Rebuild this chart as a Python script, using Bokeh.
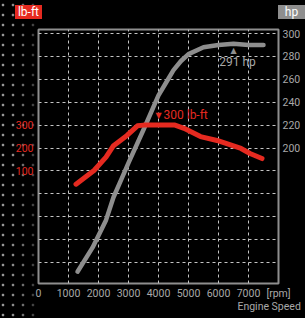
from bokeh.plotting import figure
from bokeh.models import Range1d, LinearAxis, FixedTicker, Div
from bokeh.layouts import column
from bokeh.core.properties import value
from bokeh.embed import file_html
from bokeh.resources import INLINE

# ---- data ----
rpm_tq = [1250, 1850, 2250, 2500, 2950, 3300, 3500, 4000, 4550, 4850, 5400, 5950, 6750, 7050, 7450]
torque = [42, 102, 160, 210, 255, 297, 300, 300, 300, 286, 250, 233, 198, 176, 154]

rpm_hp = [1300, 1800, 2250, 2500, 2750, 3000, 3500, 4000, 4250, 4500, 4750, 5000, 5500, 6000, 6500, 7000, 7500]
hp = [92, 113, 137, 157, 172, 187, 216, 246, 257, 268, 276, 282, 288, 290, 291, 290, 290]

x_ticks = [0, 1000, 2000, 3000, 4000, 5000, 6000, 7000, 8000]
hp_ticks = [200, 220, 240, 260, 280, 300]
tq_ticks = [100, 200, 300]
hp_grid = [100, 120, 140, 160, 180, 200, 220, 240, 260, 280, 300]
x_unit = "[rpm]"
x_title = "Engine Speed"
tq_unit = "lb-ft"
hp_unit = "hp"

RED = "#e52a20"
GRAY = "#8e8e8e"
LBL_GRAY = "#a8a8a8"
FONT = "Roboto"

hp_lo, hp_hi = 81.7, 303.5
# torque axis: 100 lb-ft per 20 hp, 300 lb-ft aligned with 220 hp
tq_lo = 300 + (hp_lo - 220) * 5
tq_hi = 300 + (hp_hi - 220) * 5

HEADER_H = 27

fig = figure(width=305, height=318 - HEADER_H, output_backend="svg", toolbar_location=None,
             x_range=Range1d(0, 8000), y_range=Range1d(hp_lo, hp_hi),
             y_axis_location="right")
fig.extra_y_ranges = {"tq": Range1d(tq_lo, tq_hi)}
fig.min_border = 0
fig.min_border_left = 38
fig.min_border_right = 27
fig.min_border_top = 2
fig.min_border_bottom = 35

fig.background_fill_color = "black"
fig.border_fill_color = None
fig.outline_line_color = GRAY
fig.outline_line_width = 2

# grids
fig.xgrid.ticker = FixedTicker(ticks=x_ticks[1:-1])
fig.ygrid.ticker = FixedTicker(ticks=hp_grid)
for g in (fig.xgrid[0], fig.ygrid[0]):
    g.grid_line_color = "#c4c4c4"
    g.grid_line_dash = "3 3"
    g.grid_line_width = 1


def style_axis(ax, color, standoff):
    ax.axis_line_color = None
    ax.major_tick_line_color = None
    ax.minor_tick_line_color = None
    ax.major_tick_out = 0
    ax.major_tick_in = 0
    ax.minor_tick_out = 0
    ax.minor_tick_in = 0
    ax.major_label_standoff = standoff
    ax.major_label_text_color = color
    ax.major_label_text_font = FONT
    ax.major_label_text_font_size = "10.5px"


# x axis
xa = fig.xaxis[0]
xa.ticker = FixedTicker(ticks=x_ticks)
xa.major_label_overrides = {x_ticks[-1]: x_unit}
style_axis(xa, LBL_GRAY, 3)

# second row under the x axis: the axis title, set under the last tick
xt = LinearAxis(ticker=FixedTicker(ticks=[x_ticks[-1]]),
                major_label_overrides={x_ticks[-1]: x_title})
style_axis(xt, LBL_GRAY, -3)
fig.add_layout(xt, "below")

# right hp axis
ya = fig.yaxis[0]
ya.ticker = FixedTicker(ticks=hp_ticks)
style_axis(ya, LBL_GRAY, 4)

# left torque axis
la = LinearAxis(y_range_name="tq", ticker=FixedTicker(ticks=tq_ticks))
style_axis(la, RED, 5)
fig.add_layout(la, "left")

# curves
fig.line(rpm_hp, hp, line_color=GRAY, line_width=4.5, line_cap="round", line_join="round")
fig.line(rpm_tq, torque, line_color=RED, line_width=5, line_cap="round", line_join="round",
         y_range_name="tq")

# peak annotations
tq_peak = max(torque)
tq_peak_rpm = 4000
hp_peak = max(hp)
hp_peak_rpm = rpm_hp[hp.index(hp_peak)]

fig.text(x=[tq_peak_rpm], y=[tq_peak], text=["\u25BC"], y_range_name="tq",
         text_color=RED, text_font=value("DejaVu Sans"), text_font_size="8px",
         text_align="center", text_baseline="middle", y_offset=-10)
fig.text(x=[tq_peak_rpm], y=[tq_peak], text=[f"{tq_peak} {tq_unit}"], y_range_name="tq",
         text_color=RED, text_font=value(FONT), text_font_size="12px",
         text_align="left", text_baseline="middle", x_offset=5, y_offset=-10)

fig.text(x=[hp_peak_rpm], y=[hp_peak], text=["\u25B2"],
         text_color=GRAY, text_font=value("DejaVu Sans"), text_font_size="8px",
         text_align="center", text_baseline="middle", y_offset=7)
fig.text(x=[hp_peak_rpm], y=[hp_peak], text=[f"{hp_peak} {hp_unit}"],
         text_color=LBL_GRAY, text_font=value(FONT), text_font_size="12px",
         text_align="center", text_baseline="middle", x_offset=4, y_offset=18)

# header row with the two unit badges
badge = ("position:absolute;top:5px;width:27px;height:14px;line-height:14px;"
         "text-align:center;color:#fff;font-family:Roboto;font-size:12px;")
header = Div(
    text=(f'<div style="position:relative;width:305px;height:{HEADER_H}px;">'
          f'<span style="{badge}left:15px;background:{RED};">{tq_unit}</span>'
          f'<span style="{badge}left:278px;background:{GRAY};">{hp_unit}</span>'
          '</div>'),
    width=305, height=HEADER_H, margin=0)

# dotted texture on the left strip, fading towards the chart
bg = ("linear-gradient(to right, rgba(0,0,0,0) 0px, rgba(0,0,0,0.1) 14px, "
      "rgba(0,0,0,0.35) 26px, rgba(0,0,0,0.6) 34px, #000 38px), "
      "radial-gradient(circle, #9a9a9a 1.1px, rgba(0,0,0,0) 1.7px) -2px 0px / 10px 10px, "
      "#000")
p = column(header, fig, spacing=0, styles={"background": bg})

open("out.html", "w").write(file_html(p, INLINE))
